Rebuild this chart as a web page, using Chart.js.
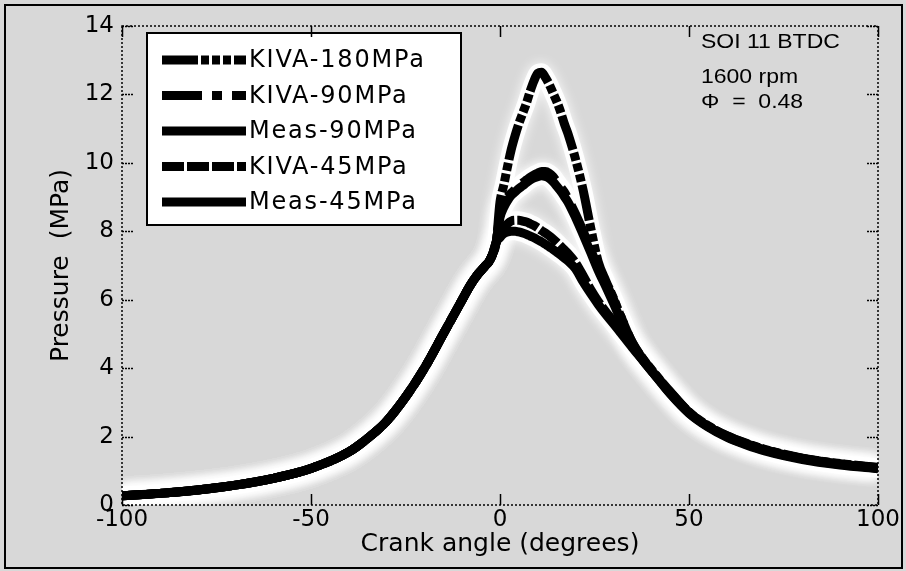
<!DOCTYPE html>
<html>
<head>
<meta charset="utf-8">
<script src="https://cdn.jsdelivr.net/npm/chart.js@4.4.1/dist/chart.umd.min.js"></script>
<style>
  html, body { margin: 0; padding: 0; background: #d8d8d8; }
  #wrap { width: 906px; height: 571px; }
</style>
</head>
<body>
<div id="wrap"><canvas id="pressureChart" width="906" height="571"></canvas></div>
<script>
// crank angle before TDC, shared by every run (compression)
const compAngle = [-100, -90, -80, -70, -60, -50, -40, -35, -30, -25, -20, -15, -10, -8, -6, -5, -4, -3, -2, -1];
const compPressure = [0.27, 0.34, 0.44, 0.58, 0.78, 1.07, 1.55, 1.95, 2.45, 3.15, 4.0, 5.0, 6.0, 6.4, 6.72, 6.85, 6.98, 7.1, 7.32, 7.68];

// crank angle after TDC
const combAngle = [0, 1, 2, 3, 4, 5, 6, 7, 8, 9, 10, 11, 12, 13, 14, 15, 16, 17, 18,
  20, 22, 24, 26, 28, 30, 32, 35, 38, 40, 45, 50, 55, 60, 65, 70, 80, 90, 100];

const kiva180 = [8.85, 9.35, 9.9, 10.4, 10.8, 11.15, 11.45, 11.75, 12.1, 12.4, 12.62, 12.65, 12.5, 12.3, 12.05, 11.8, 11.5, 11.15, 10.85,
  10.1, 9.2, 8.1, 7.1, 6.55, 6.05, 5.5, 4.75, 4.25, 3.97, 3.32, 2.72, 2.32, 2.03, 1.81, 1.63, 1.37, 1.21, 1.1];
const kiva90 = [8.5, 8.8, 9.0, 9.12, 9.22, 9.32, 9.42, 9.5, 9.58, 9.65, 9.7, 9.75, 9.75, 9.7, 9.6, 9.45, 9.3, 9.15, 8.95,
  8.5, 8.0, 7.45, 6.95, 6.5, 6.02, 5.5, 4.75, 4.24, 3.96, 3.3, 2.71, 2.31, 2.02, 1.8, 1.62, 1.36, 1.2, 1.09];
const meas90 = [8.4, 8.7, 8.9, 9.05, 9.15, 9.25, 9.33, 9.42, 9.5, 9.56, 9.6, 9.62, 9.6, 9.55, 9.45, 9.32, 9.18, 9.02, 8.85,
  8.4, 7.9, 7.38, 6.85, 6.38, 5.9, 5.4, 4.68, 4.2, 3.93, 3.28, 2.7, 2.3, 2.01, 1.79, 1.61, 1.36, 1.2, 1.08];
const kiva45 = [7.9, 8.1, 8.22, 8.3, 8.32, 8.32, 8.3, 8.27, 8.22, 8.17, 8.1, 8.02, 7.95, 7.87, 7.78, 7.68, 7.57, 7.46, 7.35,
  7.08, 6.7, 6.3, 5.95, 5.65, 5.38, 5.08, 4.64, 4.22, 3.95, 3.27, 2.7, 2.3, 2.0, 1.78, 1.6, 1.35, 1.19, 1.08];
const meas45 = [7.82, 7.93, 7.98, 8.0, 8.0, 7.98, 7.95, 7.91, 7.86, 7.81, 7.75, 7.69, 7.62, 7.55, 7.47, 7.39, 7.31, 7.22, 7.13,
  6.9, 6.52, 6.18, 5.86, 5.57, 5.3, 5.02, 4.6, 4.2, 3.93, 3.25, 2.68, 2.28, 1.98, 1.76, 1.58, 1.33, 1.17, 1.06];

const seriesNames = ['KIVA-180MPa', 'KIVA-90MPa', 'Meas-90MPa', 'KIVA-45MPa', 'Meas-45MPa'];
const xTicks = [-100, -50, 0, 50, 100];
const yTicks = [0, 2, 4, 6, 8, 10, 12, 14];
const noteLines = ['SOI 11 BTDC', '1600 rpm', '\u03A6  =  0.48'];

function toPoints(vals) {
  const xs = compAngle.concat(combAngle);
  const ys = compPressure.concat(vals);
  return xs.map((x, i) => ({ x: x, y: ys[i] }));
}

const dashes = [[36, 3, 8, 3, 8, 3, 8, 3], [40, 10, 10, 10], [], [22, 3], []];
const drawOrder = [0, 1, 3, 2, 4];
const allSeries = [kiva180, kiva90, meas90, kiva45, meas45];

const datasets = allSeries.map((vals, i) => ({
  label: seriesNames[i],
  data: toPoints(vals),
  borderColor: '#000',
  borderWidth: 9,
  borderDash: dashes[i],
  borderCapStyle: 'butt',
  borderJoinStyle: 'round',
  pointRadius: 0,
  fill: false,
  cubicInterpolationMode: 'monotone',
  order: drawOrder[i]
}));

const tickFont = { family: 'DejaVu Sans', size: 23 };
const titleFont = { family: 'DejaVu Sans', size: 25 };

// white glow round the curves, like the scan
const halo = {
  id: 'halo',
  beforeDatasetsDraw(chart) {
    const ctx = chart.ctx;
    const a = chart.chartArea;
    chart.getSortedVisibleDatasetMetas().forEach(meta => {
      const el = meta.dataset;
      const saved = el.options;
      el.options = Object.assign({}, saved, { borderColor: 'rgba(255,255,255,0.9)', borderWidth: 18, borderDash: [] });
      ctx.save();
      ctx.beginPath();
      ctx.rect(a.left, a.top, a.right - a.left, a.bottom - a.top);
      ctx.clip();
      ctx.shadowColor = '#fff';
      ctx.shadowBlur = 12;
      el.draw(ctx, a);
      ctx.restore();
      el.options = saved;
    });
  }
};

const frame = {
  id: 'frame',
  beforeDraw(chart) {
    const ctx = chart.ctx;
    ctx.save();
    ctx.fillStyle = '#d8d8d8';
    ctx.fillRect(0, 0, chart.width, chart.height);
    ctx.restore();
  },
  afterDraw(chart) {
    const ctx = chart.ctx;
    const a = chart.chartArea;
    const xs = chart.scales.x, ys = chart.scales.y;
    ctx.save();
    ctx.strokeStyle = '#000';
    ctx.lineWidth = 1.5;
    ctx.setLineDash([2, 2]);
    ctx.strokeRect(a.left, a.top, a.right - a.left, a.bottom - a.top);
    ctx.setLineDash([]);
    ctx.beginPath();
    xTicks.forEach(v => {
      const px = Math.round(xs.getPixelForValue(v)) + 0.5;
      ctx.moveTo(px, a.bottom); ctx.lineTo(px, a.bottom - 11);
      ctx.moveTo(px, a.top); ctx.lineTo(px, a.top + 11);
    });
    ctx.stroke();
    ctx.setLineDash([2, 1]);
    ctx.beginPath();
    yTicks.forEach(v => {
      const py = Math.round(ys.getPixelForValue(v)) + 0.5;
      ctx.moveTo(a.left, py); ctx.lineTo(a.left + 11, py);
      ctx.moveTo(a.right, py); ctx.lineTo(a.right - 11, py);
    });
    ctx.stroke();
    // outer border of the figure
    ctx.setLineDash([]);
    ctx.lineWidth = 2;
    ctx.strokeRect(5, 5, chart.width - 9, chart.height - 8);
    ctx.restore();
  }
};

const legendBox = {
  id: 'legendBox',
  afterDatasetsDraw(chart) {
    const ctx = chart.ctx;
    ctx.save();
    ctx.fillStyle = '#fff';
    ctx.fillRect(147, 33, 314, 192);
    ctx.strokeStyle = '#000';
    ctx.lineWidth = 2;
    ctx.strokeRect(147, 33, 314, 192);
    chart.data.datasets.forEach((ds, i) => {
      const y = 60 + i * 35.5;
      ctx.beginPath();
      ctx.lineWidth = 9;
      ctx.lineCap = 'butt';
      ctx.setLineDash(ds.borderDash);
      ctx.moveTo(162, y);
      ctx.lineTo(246, y);
      ctx.stroke();
      ctx.setLineDash([]);
      ctx.fillStyle = '#000';
      ctx.font = '24px "DejaVu Sans"';
      ctx.letterSpacing = '1.8px';
      ctx.textBaseline = 'middle';
      ctx.fillText(ds.label, 249, y + 1);
    });
    ctx.restore();
  }
};

const note = {
  id: 'note',
  afterDraw(chart) {
    const ctx = chart.ctx;
    ctx.save();
    ctx.fillStyle = '#000';
    ctx.font = '20px "Liberation Sans"';
    ctx.textBaseline = 'alphabetic';
    const base = [48, 83, 108];
    noteLines.forEach((t, i) => {
      ctx.save();
      ctx.translate(701, base[i]);
      ctx.scale(1.15, 1);
      ctx.fillText(t, 0, 0);
      ctx.restore();
    });
    ctx.restore();
  }
};

new Chart(document.getElementById('pressureChart'), {
  type: 'line',
  data: { datasets: datasets },
  options: {
    responsive: false,
    animation: false,
    devicePixelRatio: 1,
    layout: { padding: { left: 0, right: 28, top: 26, bottom: 0 } },
    plugins: { legend: { display: false }, tooltip: { enabled: false } },
    scales: {
      x: {
        type: 'linear', min: -100, max: 100,
        afterBuildTicks: s => { s.ticks = xTicks.map(v => ({ value: v })); },
        afterFit: s => { s.height = 66; },
        grid: { display: false, drawTicks: false },
        border: { display: false },
        ticks: { font: tickFont, color: '#000', padding: 1, maxRotation: 0, autoSkip: false },
        title: { display: true, text: 'Crank angle (degrees)', font: titleFont, color: '#000', padding: { top: 0, bottom: 12 } }
      },
      y: {
        min: 0, max: 14,
        afterBuildTicks: s => { s.ticks = yTicks.map(v => ({ value: v })); },
        afterFit: s => { s.width = 122; },
        grid: { display: false, drawTicks: false },
        border: { display: false },
        ticks: { font: tickFont, color: '#000', padding: 8 },
        title: { display: true, text: 'Pressure  (MPa)', font: titleFont, color: '#000', padding: { top: 46, bottom: 0 } }
      }
    }
  },
  plugins: [frame, halo, legendBox, note]
});
</script>
</body>
</html>
